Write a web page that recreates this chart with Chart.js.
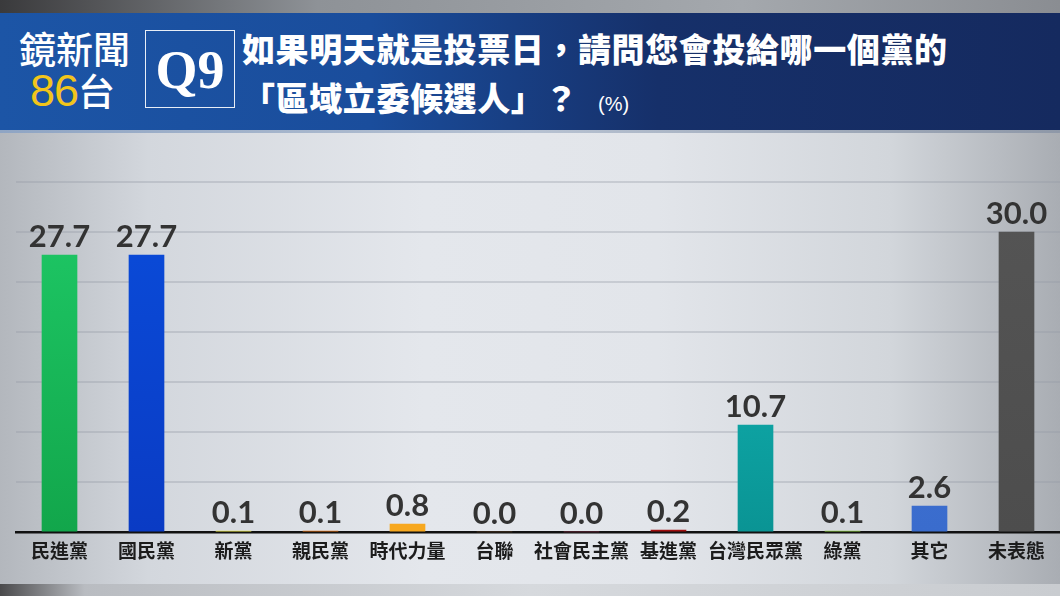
<!DOCTYPE html>
<html>
<head>
<meta charset="utf-8">
<script src="https://cdn.jsdelivr.net/npm/chart.js@4"></script>
<style>
  html, body { margin: 0; padding: 0; }
  body { width: 1060px; height: 596px; position: relative; overflow: hidden;
    background: linear-gradient(90deg, #b3b7bd 0%, #d3d7dd 14%, #e4e7ec 40%, #e2e5ea 62%, #d2d6db 84%, #a9adb3 100%); }
  #topstrip { position: absolute; left: 0; top: 0; width: 1060px; height: 13px;
    background: linear-gradient(90deg, #3a3a3c 0%, #8e9297 30%, #a4a8ad 70%, #8a8d92 100%); }
  #header { position: absolute; left: 0; top: 13px; width: 1060px; height: 117px;
    background: linear-gradient(90deg, #1c55a6 0%, #1a4d9c 35%, #16306a 62%, #152a5f 100%); }
  #hline { position: absolute; left: 0; top: 130px; width: 1060px; height: 3px;
    background: linear-gradient(90deg, #8fa5c4, #b7c2d2, #8e98a8); }
  #bottomstrip { position: absolute; left: 0; top: 584px; width: 1060px; height: 12px;
    background: linear-gradient(90deg, #4a4a4c 0%, #b9bcc1 8%, #d6d9dd 50%, #c9ccd0 100%); }
  .logo1 { position: absolute; left: 19px; top: 22px; color: #fff; font: 500 37px "Noto Sans CJK TC"; line-height: 52px; }
  .logo2 { position: absolute; left: 30px; top: 64px; color: #fff; font: 500 37px "Noto Sans CJK TC"; line-height: 52px; }
  .logo2 .n { color: #f2c51b; font-family: "Liberation Sans", "Noto Sans"; font-weight: 400; font-size: 45px; letter-spacing: -1px; }
  #qbox { position: absolute; left: 145px; top: 30px; width: 88px; height: 76px; border: 1.5px solid #e8eef7;
    color: #fff; font: 700 54px "Liberation Serif", "DejaVu Serif"; text-align: center; line-height: 78px; }
  .t1, .t2 { position: absolute; left: 242px; color: #fff; font: 900 33px "Noto Sans CJK TC"; white-space: nowrap; letter-spacing: 0.6px; }
  .t1 { top: 26px; line-height: 44px; }
  .t2 { top: 75px; line-height: 44px; }
  .t2 .pct { font: 400 20px "Liberation Sans", "Noto Sans"; letter-spacing: 0; margin-left: 20px; }
  #wrap { position: absolute; left: 0; top: 132px; width: 1060px; height: 452px; }
</style>
</head>
<body>
<div id="topstrip"></div>
<div id="header">
</div>
<div class="logo1">鏡新聞</div>
<div class="logo2"><span class="n">86</span>台</div>
<div id="qbox">Q9</div>
<div class="t1">如果明天就是投票日，請問您會投給哪一個黨的</div>
<div class="t2">「區域立委候選人」？<span class="pct">(%)</span></div>
<div id="hline"></div>
<div id="bottomstrip"></div>
<div id="wrap"><canvas id="chart" width="1060" height="452"></canvas></div>
<script>
// 各政黨支持度 (%)
var categories = ['民進黨', '國民黨', '新黨', '親民黨', '時代力量', '台聯', '社會民主黨', '基進黨', '台灣民眾黨', '綠黨', '其它', '未表態'];
var values = [27.7, 27.7, 0.1, 0.1, 0.8, 0.0, 0.0, 0.2, 10.7, 0.1, 2.6, 30.0];
var yMax = 35;
var yStep = 5;

// 每個長條的上下漸層顏色
var topColors = ['#1fcb68', '#0a4ddb', '#f3f047', '#e8700f', '#f7a81f', '#8a5a2b', '#d0406a', '#b31212', '#14c0c0', '#93d445', '#4276d6', '#555555'];
var bottomColors = ['#12a64b', '#0a3bc4', '#f3f047', '#e8700f', '#f7a81f', '#8a5a2b', '#d0406a', '#a10e0e', '#0a9494', '#8cd03e', '#3a6ccd', '#4d4d4d'];

function barColor(ctx) {
	var chart = ctx.chart;
	var area = chart.chartArea;
	if (!area) return topColors[ctx.dataIndex];
	var g = chart.ctx.createLinearGradient(0, area.top, 0, area.bottom);
	g.addColorStop(0, topColors[ctx.dataIndex]);
	g.addColorStop(1, bottomColors[ctx.dataIndex]);
	return g;
}

// 長條上方的數值
var valueLabels = {
	id: 'valueLabels',
	afterDatasetsDraw: function(chart) {
		var c = chart.ctx;
		var meta = chart.getDatasetMeta(0);
		c.save();
		c.fillStyle = '#333333';
		c.font = '700 31px Lato, "Noto Sans"';
		c.textAlign = 'center';
		c.textBaseline = 'alphabetic';
		meta.data.forEach(function(bar, i) {
			c.fillText(values[i].toFixed(1), bar.x, bar.y - 8);
		});
		c.restore();
	}
};

var chart = new Chart(document.getElementById('chart'), {
	type: 'bar',
	data: {
		labels: categories,
		datasets: [{
			label: '%',
			data: values,
			backgroundColor: barColor,
			barThickness: 35,
			borderWidth: 0
		}]
	},
	options: {
		responsive: false,
		animation: false,
		devicePixelRatio: 1,
		layout: { padding: { left: 16, right: 0, top: 50, bottom: 15 } },
		plugins: { legend: { display: false }, tooltip: { enabled: false } },
		scales: {
			x: {
				grid: { display: false, drawTicks: false },
				border: { display: true, color: '#111111', width: 2.5 },
				ticks: {
					padding: 7,
					maxRotation: 0,
					minRotation: 0,
					autoSkip: false,
					color: '#1c1c1c',
					font: { family: '"Noto Sans CJK TC"', size: 19, weight: '700' }
				}
			},
			y: {
				min: 0,
				max: yMax,
				ticks: { display: false, stepSize: yStep },
				border: { display: false },
				grid: {
					drawTicks: false,
					lineWidth: 2,
					color: function(ctx) {
						return ctx.tick && ctx.tick.value === 0 ? 'rgba(0,0,0,0)' : 'rgba(150,156,166,0.35)';
					}
				}
			}
		}
	},
	plugins: [valueLabels]
});
</script>
</body>
</html>
